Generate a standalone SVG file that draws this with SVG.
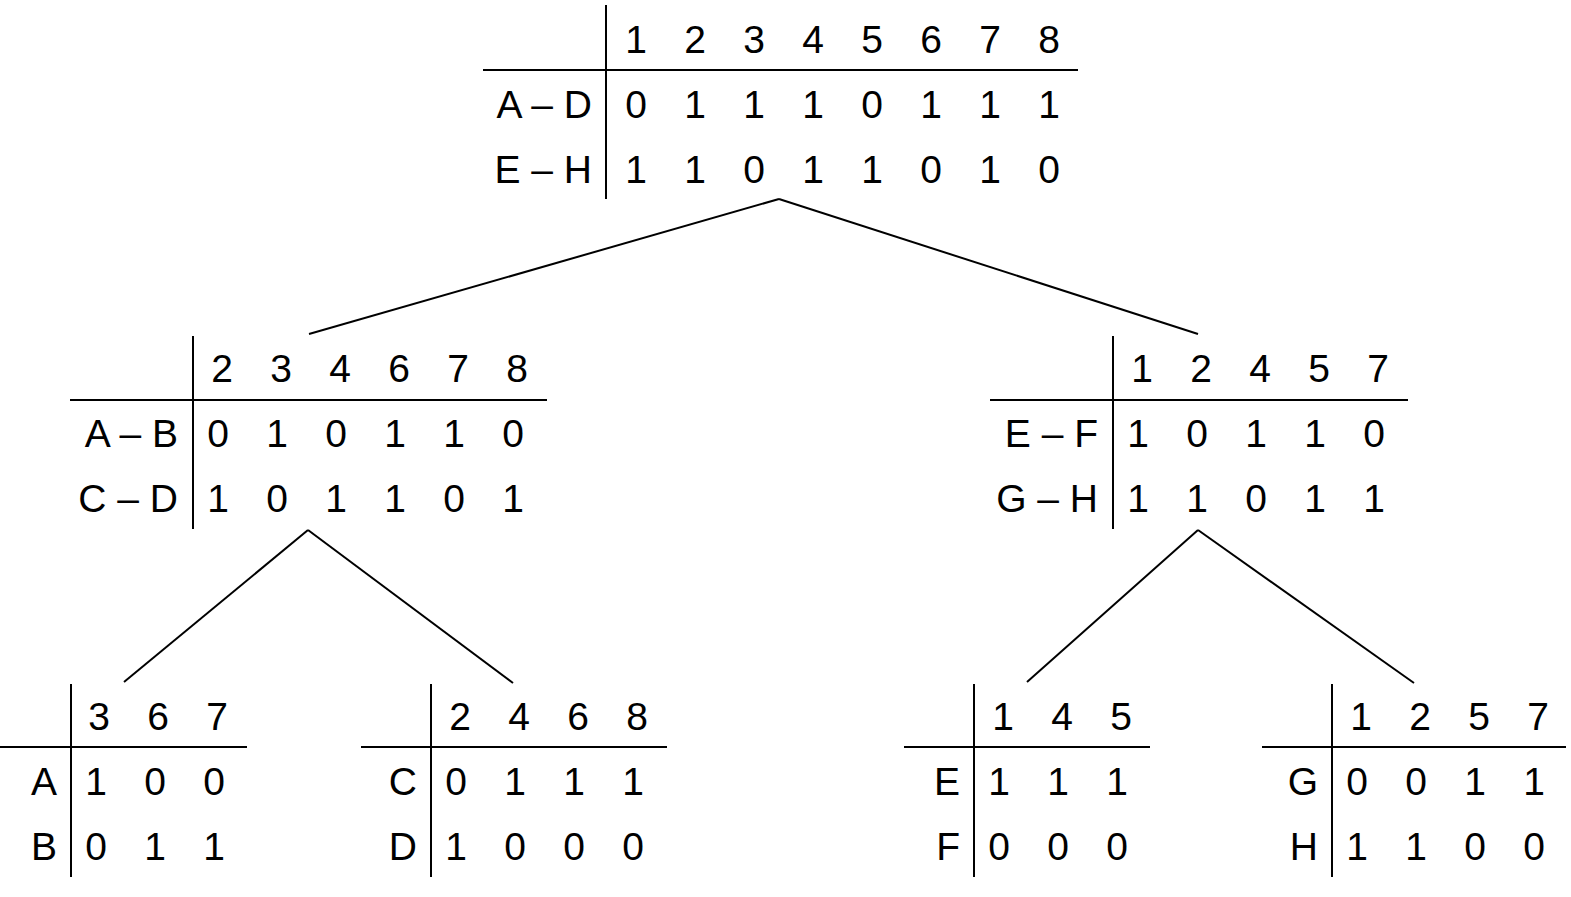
<svg xmlns="http://www.w3.org/2000/svg" width="1571" height="897" viewBox="0 0 1571 897">
<style>
text{font-family:"Liberation Sans",Arial,sans-serif;font-size:39px;fill:#000}
.c{text-anchor:middle}
.r{text-anchor:end}
line{stroke:#000;stroke-width:2}
</style>
<rect width="1571" height="897" fill="#fff"/>
<g id="connectors">
<line x1="779" y1="199" x2="309" y2="334"/>
<line x1="779" y1="199" x2="1198" y2="334"/>
<line x1="308" y1="530" x2="124" y2="682"/>
<line x1="308" y1="530" x2="513" y2="683"/>
<line x1="1198" y1="530" x2="1027" y2="682"/>
<line x1="1198" y1="530" x2="1414" y2="683"/>
</g>
<g id="root">
<line x1="606" y1="5" x2="606" y2="199"/>
<line x1="483" y1="70" x2="1078" y2="70"/>
<g class="c">
<text x="636" y="53">1</text><text x="695" y="53">2</text><text x="754" y="53">3</text><text x="813" y="53">4</text><text x="872" y="53">5</text><text x="931" y="53">6</text><text x="990" y="53">7</text><text x="1049" y="53">8</text>
<text x="636" y="118">0</text><text x="695" y="118">1</text><text x="754" y="118">1</text><text x="813" y="118">1</text><text x="872" y="118">0</text><text x="931" y="118">1</text><text x="990" y="118">1</text><text x="1049" y="118">1</text>
<text x="636" y="183">1</text><text x="695" y="183">1</text><text x="754" y="183">0</text><text x="813" y="183">1</text><text x="872" y="183">1</text><text x="931" y="183">0</text><text x="990" y="183">1</text><text x="1049" y="183">0</text>
</g>
<text class="r" x="592" y="118">A – D</text>
<text class="r" x="592" y="183">E – H</text>
</g>
<g id="left">
<line x1="193" y1="336" x2="193" y2="529"/>
<line x1="70" y1="400" x2="547" y2="400"/>
<g class="c">
<text x="222" y="382">2</text><text x="281" y="382">3</text><text x="340" y="382">4</text><text x="399" y="382">6</text><text x="458" y="382">7</text><text x="517" y="382">8</text>
<text x="218" y="447">0</text><text x="277" y="447">1</text><text x="336" y="447">0</text><text x="395" y="447">1</text><text x="454" y="447">1</text><text x="513" y="447">0</text>
<text x="218" y="512">1</text><text x="277" y="512">0</text><text x="336" y="512">1</text><text x="395" y="512">1</text><text x="454" y="512">0</text><text x="513" y="512">1</text>
</g>
<text class="r" x="178" y="447">A – B</text>
<text class="r" x="178" y="512">C – D</text>
</g>
<g id="right">
<line x1="1113" y1="336" x2="1113" y2="529"/>
<line x1="990" y1="400" x2="1408" y2="400"/>
<g class="c">
<text x="1142" y="382">1</text><text x="1201" y="382">2</text><text x="1260" y="382">4</text><text x="1319" y="382">5</text><text x="1378" y="382">7</text>
<text x="1138" y="447">1</text><text x="1197" y="447">0</text><text x="1256" y="447">1</text><text x="1315" y="447">1</text><text x="1374" y="447">0</text>
<text x="1138" y="512">1</text><text x="1197" y="512">1</text><text x="1256" y="512">0</text><text x="1315" y="512">1</text><text x="1374" y="512">1</text>
</g>
<text class="r" x="1098" y="447">E – F</text>
<text class="r" x="1098" y="512">G – H</text>
</g>
<g id="ab">
<line x1="71" y1="684" x2="71" y2="877"/>
<line x1="0" y1="747" x2="247" y2="747"/>
<g class="c">
<text x="99" y="730">3</text><text x="158" y="730">6</text><text x="217" y="730">7</text>
<text x="96" y="795">1</text><text x="155" y="795">0</text><text x="214" y="795">0</text>
<text x="96" y="860">0</text><text x="155" y="860">1</text><text x="214" y="860">1</text>
</g>
<text class="r" x="57" y="795">A</text>
<text class="r" x="57" y="860">B</text>
</g>
<g id="cd">
<line x1="431" y1="684" x2="431" y2="877"/>
<line x1="361" y1="747" x2="667" y2="747"/>
<g class="c">
<text x="460" y="730">2</text><text x="519" y="730">4</text><text x="578" y="730">6</text><text x="637" y="730">8</text>
<text x="456" y="795">0</text><text x="515" y="795">1</text><text x="574" y="795">1</text><text x="633" y="795">1</text>
<text x="456" y="860">1</text><text x="515" y="860">0</text><text x="574" y="860">0</text><text x="633" y="860">0</text>
</g>
<text class="r" x="417" y="795">C</text>
<text class="r" x="417" y="860">D</text>
</g>
<g id="ef">
<line x1="974" y1="684" x2="974" y2="877"/>
<line x1="904" y1="747" x2="1150" y2="747"/>
<g class="c">
<text x="1003" y="730">1</text><text x="1062" y="730">4</text><text x="1121" y="730">5</text>
<text x="999" y="795">1</text><text x="1058" y="795">1</text><text x="1117" y="795">1</text>
<text x="999" y="860">0</text><text x="1058" y="860">0</text><text x="1117" y="860">0</text>
</g>
<text class="r" x="960" y="795">E</text>
<text class="r" x="960" y="860">F</text>
</g>
<g id="gh">
<line x1="1332" y1="684" x2="1332" y2="877"/>
<line x1="1262" y1="747" x2="1566" y2="747"/>
<g class="c">
<text x="1361" y="730">1</text><text x="1420" y="730">2</text><text x="1479" y="730">5</text><text x="1538" y="730">7</text>
<text x="1357" y="795">0</text><text x="1416" y="795">0</text><text x="1475" y="795">1</text><text x="1534" y="795">1</text>
<text x="1357" y="860">1</text><text x="1416" y="860">1</text><text x="1475" y="860">0</text><text x="1534" y="860">0</text>
</g>
<text class="r" x="1318" y="795">G</text>
<text class="r" x="1318" y="860">H</text>
</g>
</svg>
